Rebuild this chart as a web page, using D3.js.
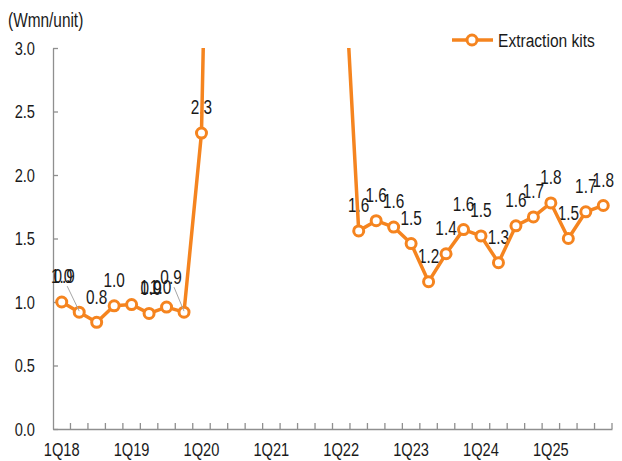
<!DOCTYPE html>
<html>
<head>
<meta charset="utf-8">
<script src="https://cdn.jsdelivr.net/npm/d3@7"></script>
<style>
  html, body { margin: 0; padding: 0; background: #fff; }
  svg text { font-family: "Liberation Sans", Arial, sans-serif; font-size: 19px; }
</style>
</head>
<body>
<svg id="chart" width="622" height="461"></svg>
<script>
// Quarterly average price of extraction kits
const quarters = [
  "1Q18","2Q18","3Q18","4Q18","1Q19","2Q19","3Q19","4Q19",
  "1Q20","2Q20","3Q20","4Q20","1Q21","2Q21","3Q21","4Q21",
  "1Q22","2Q22","3Q22","4Q22","1Q23","2Q23","3Q23","4Q23",
  "1Q24","2Q24","3Q24","4Q24","1Q25","2Q25","3Q25","4Q25"
];
const extractionKits = [
  1.00, 0.92, 0.84, 0.97, 0.98, 0.91, 0.96, 0.92,
  2.33, 9.00, 8.00, 7.00, 6.00, 5.50, 5.00, 4.50,
  4.10, 1.56, 1.64, 1.59, 1.46, 1.16, 1.38, 1.57,
  1.52, 1.31, 1.60, 1.67, 1.78, 1.50, 1.71, 1.76
];
const yTicks = [0, 0.5, 1.0, 1.5, 2.0, 2.5, 3.0];
const xLabelQuarters = ["1Q18","1Q19","1Q20","1Q21","1Q22","1Q23","1Q24","1Q25"];
const seriesName = "Extraction kits";
const unitLabel = "(Wmn/unit)";

// Hand-placed labels where neighbours collide (offsets in px from the default spot)
const labelNudges = {
  "2Q18": { dx: -15, dy: -10, leader: true },
  "1Q19": { dx: 19, dy: 8 },
  "2Q19": { dx: 2, dy: 0 },
  "3Q19": { dx: -6, dy: 6 },
  "4Q19": { dx: -13, dy: -9, leader: true }
};

const orange = "#F5841F";
const axisGrey = "#8f8f8f";
const textColor = "#1a1a1a";

// Moves a text's x/y into a transform so it can be squeezed horizontally
function squeeze(sel, k) {
  sel.each(function () {
    const t = d3.select(this);
    const x0 = +t.attr("x") || 0, y0 = +t.attr("y") || 0;
    t.attr("x", 0).attr("y", 0)
      .attr("transform", `translate(${x0},${y0}) scale(${k},1)`);
  });
}

const svg = d3.select("#chart");
const plotLeft = 53, plotRight = 612, plotTop = 48, plotBottom = 429;

const x = d3.scaleBand().domain(quarters).range([plotLeft, plotRight]).padding(0);
const y = d3.scaleLinear().domain([0, 3]).range([plotBottom, plotTop]);
const cx = q => x(q) + x.bandwidth() / 2;

const data = quarters.map((q, i) => ({ q, v: extractionKits[i] }));

svg.append("defs").append("clipPath").attr("id", "plot")
  .append("rect").attr("x", plotLeft).attr("y", plotTop)
  .attr("width", plotRight - plotLeft + 10).attr("height", plotBottom - plotTop);

// Y axis: ticks point into the plot
const yAxis = d3.axisLeft(y).tickValues(yTicks).tickFormat(d3.format(".1f"))
  .tickSizeInner(-5).tickSizeOuter(0).tickPadding(18);
const gy = svg.append("g").attr("transform", `translate(${plotLeft},0)`).call(yAxis);
gy.attr("font-family", null).attr("font-size", null);
gy.select(".domain").attr("stroke", axisGrey).attr("stroke-width", 1.3);
gy.selectAll(".tick line").attr("stroke", axisGrey).attr("stroke-width", 1.3);
gy.selectAll(".tick text").attr("fill", textColor).style("font-size", "19px")
  .call(squeeze, 0.77);

// X axis: labels centred on the first quarter of each year
const xAxis = d3.axisBottom(x).tickValues(xLabelQuarters).tickSize(0).tickPadding(14);
const gx = svg.append("g").attr("transform", `translate(0,${plotBottom})`).call(xAxis);
gx.attr("font-family", null).attr("font-size", null);
gx.select(".domain").attr("stroke", axisGrey).attr("stroke-width", 1.3);
gx.selectAll(".tick text").attr("fill", textColor).style("font-size", "19px")
  .call(squeeze, 0.77);

// X tick marks sit on the quarter boundaries
const boundaries = quarters.slice(1).map(q => x(q)).concat([x.range()[1]]);
svg.append("g").selectAll("line").data(boundaries).join("line")
  .attr("x1", d => d).attr("x2", d => d)
  .attr("y1", plotBottom).attr("y2", plotBottom - 6)
  .attr("stroke", axisGrey).attr("stroke-width", 1.3);

// Unit label
svg.append("text").attr("x", 8).attr("y", 27).attr("fill", textColor)
  .style("font-size", "19.5px")
  .text(unitLabel).call(squeeze, 0.79);

// Value labels (only points inside the visible range)
const fmt = d3.format(".1f");
const labelled = data.filter(d => d.v <= 3).map(d => {
  const n = labelNudges[d.q] || { dx: 0, dy: 0 };
  return { ...d, lx: cx(d.q) + n.dx, ly: y(d.v) - 26 + n.dy, leader: !!n.leader };
});

svg.append("g").selectAll("text").data(labelled).join("text")
  .attr("x", d => d.lx).attr("y", d => d.ly + 7.3)
  .attr("text-anchor", "middle").attr("fill", textColor)
  .style("font-size", "20.5px")
  .text(d => fmt(d.v))
  .call(squeeze, 0.75);

// Series line, clipped to the plot area
const line = d3.line().x(d => cx(d.q)).y(d => y(d.v));
svg.append("path").datum(data)
  .attr("clip-path", "url(#plot)")
  .attr("fill", "none").attr("stroke", orange).attr("stroke-width", 3.5)
  .attr("stroke-linejoin", "round")
  .attr("d", line);

// Markers
svg.append("g").selectAll("circle").data(data.filter(d => d.v <= 3)).join("circle")
  .attr("cx", d => cx(d.q)).attr("cy", d => y(d.v)).attr("r", 5)
  .attr("fill", "#fff").attr("stroke", orange).attr("stroke-width", 3);

// Leader lines for moved labels
svg.append("g").selectAll("line").data(labelled.filter(d => d.leader)).join("line")
  .attr("x1", d => d.lx + 3).attr("y1", d => d.ly + 10)
  .attr("x2", d => cx(d.q)).attr("y2", d => y(d.v) - 1)
  .attr("stroke", "#a6a6a6").attr("stroke-width", 1);

// Legend
const lg = svg.append("g").attr("transform", "translate(452,40)");
lg.append("line").attr("x1", 0).attr("x2", 41).attr("y1", 0).attr("y2", 0)
  .attr("stroke", orange).attr("stroke-width", 3.5);
lg.append("circle").attr("cx", 20).attr("cy", 0).attr("r", 5)
  .attr("fill", "#fff").attr("stroke", orange).attr("stroke-width", 3);
lg.append("text").attr("x", 46).attr("y", 7).attr("fill", textColor)
  .style("font-size", "19px")
  .text(seriesName).call(squeeze, 0.82);
</script>
</body>
</html>
